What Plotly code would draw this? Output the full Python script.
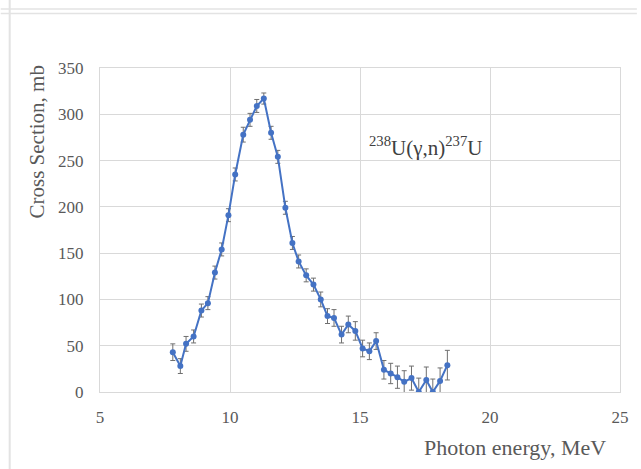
import plotly.graph_objects as go

energy = [7.80, 8.09, 8.31, 8.60, 8.90, 9.15, 9.42, 9.68, 9.94, 10.20, 10.51, 10.77,
          11.03, 11.30, 11.58, 11.84, 12.13, 12.40, 12.64, 12.93, 13.21, 13.49, 13.75,
          14.00, 14.29, 14.55, 14.82, 15.10, 15.36, 15.62, 15.92, 16.18, 16.44, 16.70,
          16.98, 17.26, 17.55, 17.80, 18.08, 18.36]
sigma = [43, 28, 52, 60, 88, 96, 129, 154, 191, 235, 278, 294,
         309, 317, 280, 254, 199, 161, 141, 126, 116, 100, 82,
         80, 62, 73, 66, 47, 44, 55, 24, 20, 16, 11,
         15, 0, 13, 0, 12, 29]
err = [9, 8, 8, 7, 7, 7, 7, 7, 7, 7, 8, 7,
       7, 6, 7, 7, 7, 7, 7, 7, 7, 8, 8,
       9, 9, 9, 10, 9, 9, 9, 10, 11, 12, 12,
       13, 15, 14, 14, 14, 16]

x_ticks = [5, 10, 15, 20, 25]
y_ticks = [0, 50, 100, 150, 200, 250, 300, 350]

W, H = 641, 469
L, R, T, B = 100, 17, 68, 77
pw, ph = W - L - R, H - T - B

def px(x):
    return (x - L) / pw

def py(y):
    return 1 - (y - T) / ph

fig = go.Figure()
fig.add_trace(go.Scatter(
    x=energy, y=sigma, mode="lines+markers",
    line=dict(color="#4472C4", width=2),
    marker=dict(color="#4472C4", size=6),
    error_y=dict(type="data", array=err, visible=True, color="#6f6f6f",
                 thickness=1, width=2.5),
    showlegend=False,
))

font_family = "Liberation Serif"
fig.update_layout(
    width=W, height=H,
    margin=dict(l=L, r=R, t=T, b=B),
    paper_bgcolor="white", plot_bgcolor="white",
    font=dict(family=font_family, color="#595959"),
    xaxis=dict(range=[5, 25], tickvals=x_ticks, showgrid=True, gridcolor="#d9d9d9",
               gridwidth=1, zeroline=False, showline=True, linecolor="#d9d9d9",
               mirror=True, ticks="", tickfont=dict(size=17, color="#595959"),
               ticklabelstandoff=10),
    yaxis=dict(range=[0, 350], tickvals=y_ticks, showgrid=True, gridcolor="#d9d9d9",
               gridwidth=1, zeroline=False, showline=True, linecolor="#d9d9d9",
               mirror=True, ticks="", tickfont=dict(size=17, color="#595959"),
               ticklabelstandoff=12),
)

fig.add_annotation(text="Cross Section, mb", textangle=-90, xref="paper", yref="paper",
                   x=px(37), y=py(142), xanchor="center", yanchor="middle", showarrow=False,
                   font=dict(size=21, color="#595959", family=font_family))
fig.add_annotation(text="Photon energy, MeV", xref="paper", yref="paper",
                   x=px(518), y=py(447), xanchor="center", yanchor="middle", showarrow=False,
                   font=dict(size=22, color="#595959", family=font_family))
fig.add_annotation(text="<sup>238</sup>U(γ,n)<sup>237</sup>U", xref="paper", yref="paper",
                   x=px(428), y=py(146), xanchor="center", yanchor="middle", showarrow=False,
                   font=dict(size=21, color="#404040", family=font_family))

# outer frame lines
fig.add_shape(type="line", xref="paper", yref="paper", x0=px(9), x1=px(9), y0=py(0), y1=py(469),
              line=dict(color="#e3e3e3", width=2))
fig.add_shape(type="line", xref="paper", yref="paper", x0=px(0), x1=px(641), y0=py(9), y1=py(9),
              line=dict(color="#e3e3e3", width=1.5))
fig.add_shape(type="line", xref="paper", yref="paper", x0=px(0), x1=px(641), y0=py(13.5), y1=py(13.5),
              line=dict(color="#e3e3e3", width=1.5))

fig.write_html("out.html")
